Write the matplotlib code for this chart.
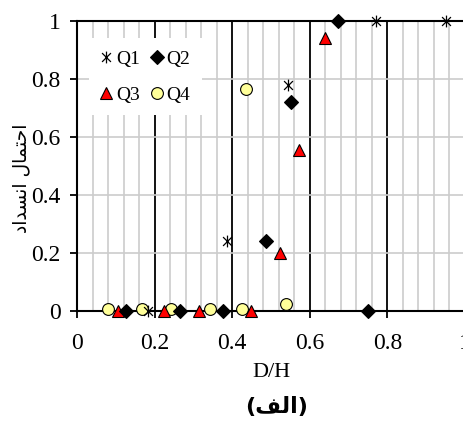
import matplotlib
matplotlib.use("Agg")
import matplotlib.pyplot as plt
from matplotlib.path import Path
from matplotlib.ticker import MultipleLocator, FixedLocator

# ---- data ----
q1_x = [0.183, 0.386, 0.545, 0.771, 0.951]
q1_y = [0.0, 0.24, 0.78, 1.0, 1.0]
q2_x = [0.126, 0.265, 0.375, 0.487, 0.551, 0.674, 0.751]
q2_y = [0.0, 0.0, 0.0, 0.24, 0.72, 1.0, 0.0]
q3_x = [0.104, 0.224, 0.314, 0.447, 0.523, 0.573, 0.638]
q3_y = [0.0, 0.0, 0.0, 0.0, 0.20, 0.555, 0.94]
q4_x = [0.080, 0.168, 0.242, 0.342, 0.424, 0.435, 0.538]
q4_y = [0.008, 0.008, 0.008, 0.008, 0.008, 0.765, 0.025]
series_labels = ["Q1", "Q2", "Q3", "Q4"]
tick_vals = [0, 0.2, 0.4, 0.6, 0.8, 1.0]
tick_labels = ["0", "0.2", "0.4", "0.6", "0.8", "1"]
x_label = "D/H"
# Arabic text in presentation forms, visual order (matplotlib does no shaping)
y_label = "\uFEA9\uFE8D\uFEAA\uFEB4\uFEE7\uFE8D \uFEDD\uFE8E\uFEE4\uFE98\uFEA3\uFE8D"  # احتمال انسداد
caption = "(\uFED2\uFEDF\uFE8D)"  # (الف)

serif = ["Liberation Serif", "DejaVu Sans"]
plt.rcParams["font.family"] = serif

fig = plt.figure(figsize=(4.63, 4.22), dpi=100)
ax = fig.add_axes([77.3 / 463, 111 / 422, 387.5 / 463, 290 / 422])
ax.set_xlim(0, 1)
ax.set_ylim(0, 1)

# grid
ax.xaxis.set_major_locator(FixedLocator(tick_vals))
ax.yaxis.set_major_locator(FixedLocator(tick_vals))
ax.xaxis.set_minor_locator(MultipleLocator(0.04))
ax.grid(which="minor", axis="x", color="#cccccc", lw=1.2, zorder=0)
ax.grid(which="major", axis="y", color="#cccccc", lw=1.2, zorder=0)
ax.grid(which="major", axis="x", color="black", lw=1.3, zorder=0.5)
ax.set_axisbelow(True)

for s in ax.spines.values():
    s.set_color("black")
    s.set_linewidth(1.5)

ax.set_xticks(tick_vals)
ax.set_xticklabels(tick_labels)
ax.set_yticks(tick_vals)
ax.set_yticklabels(tick_labels)
ax.tick_params(axis="both", which="major", direction="out", length=5, width=1.3,
               color="black", labelsize=17)
ax.tick_params(axis="x", which="major", pad=11)
ax.tick_params(axis="y", which="major", pad=7)
ax.tick_params(axis="x", which="minor", length=0)

# star (asterisk) marker: vertical bar + X
star = Path([(0, -1), (0, 1), (-0.75, -0.75), (0.75, 0.75), (-0.75, 0.75), (0.75, -0.75)],
            [Path.MOVETO, Path.LINETO, Path.MOVETO, Path.LINETO, Path.MOVETO, Path.LINETO])

ax.plot(q4_x, q4_y, ls="none", marker="o", ms=8.5, mfc="#ffff99", mec="black", mew=0.8,
        label=series_labels[3], clip_on=False, zorder=3)
ax.plot(q3_x, q3_y, ls="none", marker="^", ms=9, mfc="#ff0000", mec="black", mew=0.8,
        label=series_labels[2], clip_on=False, zorder=4)
ax.plot(q2_x, q2_y, ls="none", marker="D", ms=7.3, mfc="black", mec="black", mew=0.8,
        label=series_labels[1], clip_on=False, zorder=5)
ax.plot(q1_x, q1_y, ls="none", marker=star, ms=8.5, mfc="black", mec="black", mew=0.9,
        label=series_labels[0], clip_on=False, zorder=6)

handles, labels = ax.get_legend_handles_labels()
byname = dict(zip(labels, handles))
names = ["Q1", "Q3", "Q2", "Q4"]  # column-wise fill -> rows: Q1 Q2 / Q3 Q4
leg = ax.legend([byname[n] for n in names], names, ncol=2, loc="upper left",
                bbox_to_anchor=(0.03, 0.94), borderaxespad=0, frameon=True,
                fancybox=False, framealpha=1, facecolor="white", edgecolor="none",
                fontsize=14, handlelength=0.6, handletextpad=0.2, columnspacing=0.55,
                labelspacing=0.95, borderpad=0.6)
leg.set_zorder(10)

ax.set_xlabel(x_label, fontsize=16, labelpad=6)
fig.text(21 / 463, 1 - 178 / 422, y_label, rotation=90, ha="center", va="center",
         fontsize=13.5, family=["DejaVu Sans"])
fig.text(277 / 463, 1 - 407 / 422, caption, ha="center", va="center", fontsize=16,
         fontweight="bold", family=["DejaVu Sans"])

fig.savefig("out.png", dpi=100)
